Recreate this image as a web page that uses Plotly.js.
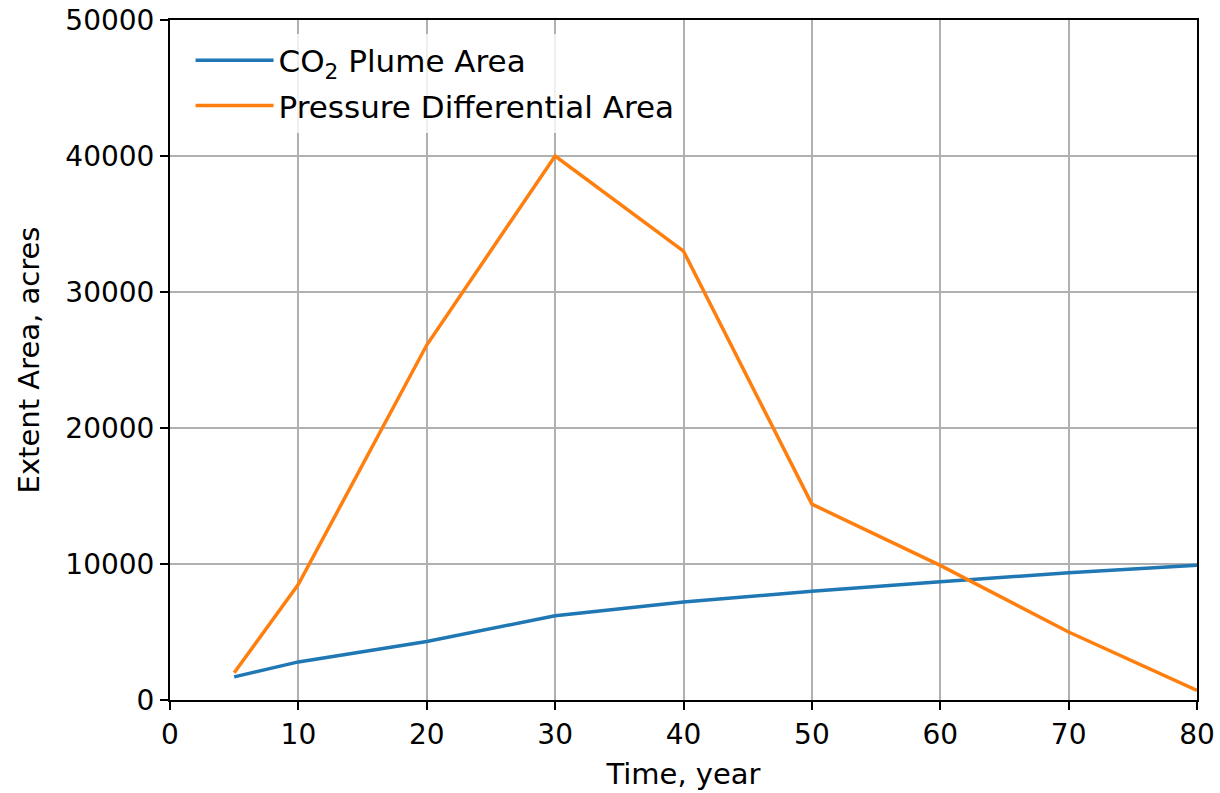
<!DOCTYPE html>
<html>
<head>
<meta charset="utf-8">
<script src="https://cdn.plot.ly/plotly-3.0.1.min.js"></script>
<style>html,body{margin:0;padding:0;background:#fff;}#chart{width:1220px;height:793px;}</style>
</head>
<body>
<div id="chart"></div>
<script>
const years = [5, 10, 20, 30, 40, 50, 60, 70, 80];
const plumeArea = [1700, 2800, 4300, 6200, 7200, 8000, 8700, 9350, 9900];
const pressureArea = [2000, 8500, 26100, 40000, 33000, 14400, 9900, 5000, 700];
const xTicks = [0, 10, 20, 30, 40, 50, 60, 70, 80];
const yTicks = [0, 10000, 20000, 30000, 40000, 50000];

const tickFont = {family: 'DejaVu Sans, sans-serif', size: 28, color: '#000'};
const titleFont = {family: 'DejaVu Sans, sans-serif', size: 29, color: '#000'};
const legendFont = {family: 'DejaVu Sans, sans-serif', size: 31, color: '#000'};

const traces = [
  {x: years, y: plumeArea, type: 'scatter', mode: 'lines', name: 'CO<sub>2</sub> Plume Area',
   line: {color: '#1f77b4', width: 3.5}, legendgroup: 'a'},
  {x: years, y: pressureArea, type: 'scatter', mode: 'lines', name: 'Pressure Differential Area',
   line: {color: '#ff7f0e', width: 3.5}, legendgroup: 'b'}
];

const axisCommon = {
  showline: true, linecolor: '#000', linewidth: 2, mirror: true,
  ticks: 'outside', ticklen: 8, tickwidth: 2, tickcolor: '#000',
  showgrid: true, gridcolor: '#b0b0b0', gridwidth: 2,
  zeroline: false, tickfont: tickFont
};

const layout = {
  width: 1220, height: 793,
  margin: {l: 170, r: 23, t: 20, b: 93},
  paper_bgcolor: '#fff', plot_bgcolor: '#fff',
  font: tickFont,
  showlegend: true,
  legend: {x: 0.02, y: 0.98, xanchor: 'left', yanchor: 'top', bgcolor: 'rgba(255,255,255,0.8)',
           borderwidth: 0, font: legendFont, tracegroupgap: 2, itemwidth: 78},
  xaxis: Object.assign({}, axisCommon, {
    range: [0, 80], tickmode: 'array', tickvals: xTicks, ticktext: xTicks.map(String),
    title: {text: 'Time, year', font: titleFont, standoff: 14}
  }),
  yaxis: Object.assign({}, axisCommon, {
    range: [0, 50000], tickmode: 'array', tickvals: yTicks, ticktext: yTicks.map(String),
    title: {text: 'Extent Area, acres', font: titleFont, standoff: 17}
  })
};

Plotly.newPlot('chart', traces, layout, {displayModeBar: false, staticPlot: true});
</script>
</body>
</html>
